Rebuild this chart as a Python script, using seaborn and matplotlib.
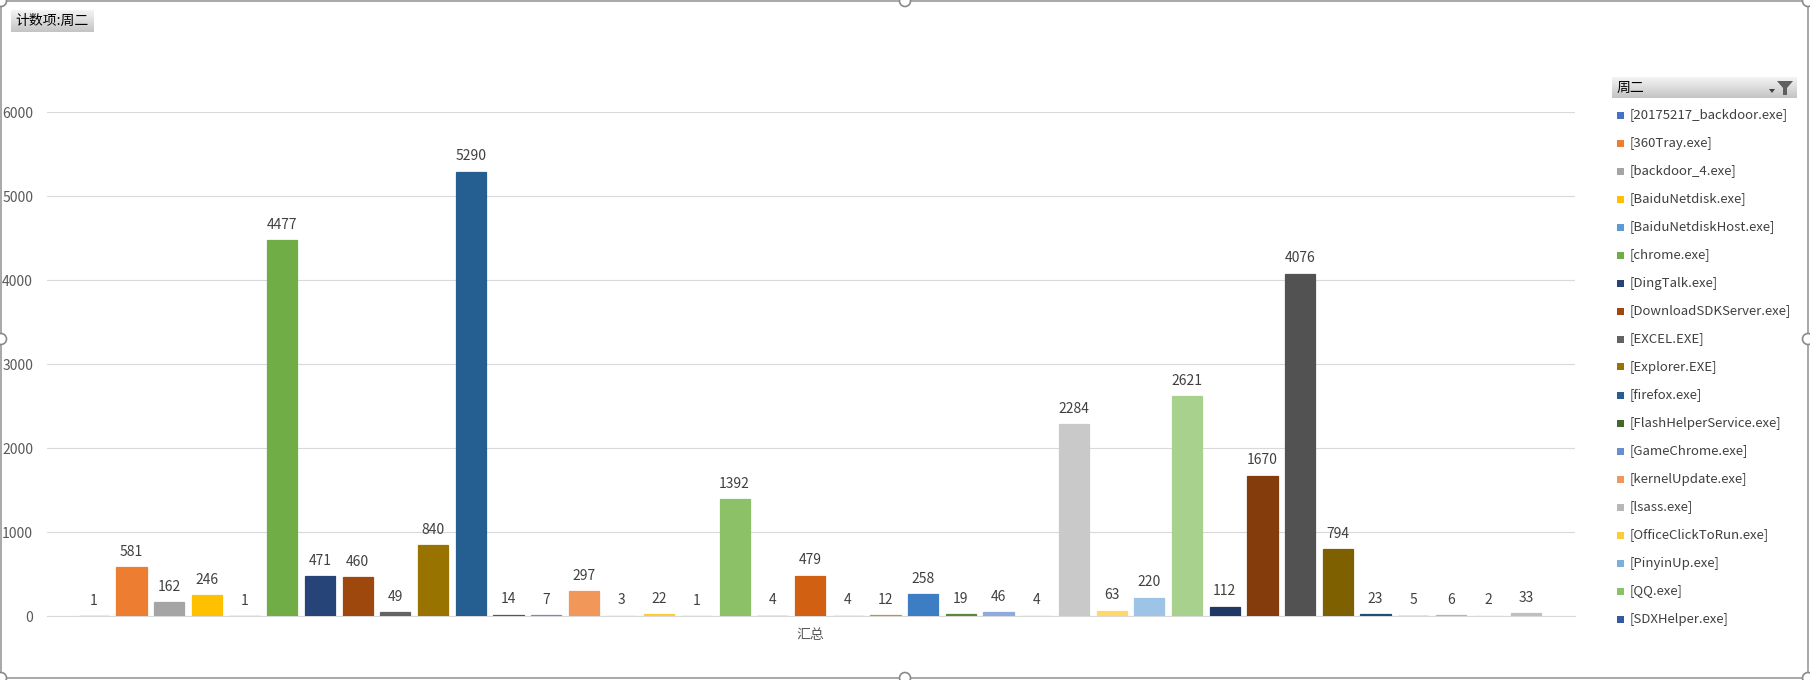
import numpy as np
import pandas as pd
import matplotlib
matplotlib.use("Agg")
import matplotlib.pyplot as plt
from matplotlib.patches import Rectangle, Polygon
import seaborn as sns

# ---------------- data ----------------
values = [1, 581, 162, 246, 1, 4477, 471, 460, 49, 840,
          5290, 14, 7, 297, 3, 22, 1, 1392, 4, 479,
          4, 12, 258, 19, 46, 4, 2284, 63, 220, 2621,
          112, 1670, 4076, 794, 23, 5, 6, 2, 33]

legend_names = ["[20175217_backdoor.exe]", "[360Tray.exe]", "[backdoor_4.exe]",
                "[BaiduNetdisk.exe]", "[BaiduNetdiskHost.exe]", "[chrome.exe]",
                "[DingTalk.exe]", "[DownloadSDKServer.exe]", "[EXCEL.EXE]",
                "[Explorer.EXE]", "[firefox.exe]", "[FlashHelperService.exe]",
                "[GameChrome.exe]", "[kernelUpdate.exe]", "[lsass.exe]",
                "[OfficeClickToRun.exe]", "[PinyinUp.exe]", "[QQ.exe]",
                "[SDXHelper.exe]"]

colors = ["#4472C4", "#ED7D31", "#A5A5A5", "#FFC000", "#5B9BD5", "#70AD47",
          "#264478", "#9E480E", "#636363", "#997300", "#255E91", "#43682B",
          "#698ED0", "#F1975A", "#B7B7B7", "#FFCD33", "#7CAFDD", "#8CC168",
          "#335AA1", "#D26012", "#848484", "#CC9A00", "#3C7DC4", "#5A8A39",
          "#8FAADC", "#F4B183", "#C9C9C9", "#FFD966", "#9DC3E6", "#A9D18E",
          "#203864", "#843C0C", "#525252", "#7F6000", "#1F4E79", "#385723",
          "#A2B4E0", "#F6C6A4", "#BFBFBF"]

y_ticks = [0, 1000, 2000, 3000, 4000, 5000, 6000]
category_label = "汇总"
title_button = "计数项:周二"
legend_title = "周二"

# ---------------- style ----------------
sns.set_theme(style="white")
plt.rcParams["font.family"] = ["Noto Sans CJK SC", "DejaVu Sans"]

W, H = 1810, 680
fig = plt.figure(figsize=(W / 100, H / 100), dpi=100)
fig.patch.set_facecolor("white")

def fx(px):
    return px / W

def fy(py):
    return 1 - py / H

left, right, top, bottom = 47, 1575, 112, 616
ax = fig.add_axes([fx(left), fy(bottom), fx(right - left), (bottom - top) / H])

df = pd.DataFrame({"pos": np.arange(len(values)),
                   "value": values,
                   "sid": [str(i) for i in range(len(values))]})
palette = {str(i): c for i, c in enumerate(colors)}

sns.barplot(data=df, x="pos", y="value", hue="sid", palette=palette,
            native_scale=True, width=0.8, dodge=False, legend=False,
            saturation=1, linewidth=0, ax=ax)

# hairline edge in the bar's own colour so tiny values stay visible (as in Excel)
for patch in ax.patches:
    patch.set_edgecolor(patch.get_facecolor())
    patch.set_linewidth(0.9)
    patch.set_zorder(3)

ax.set_xlim(-1.24, 39.29)
ax.set_ylim(0, 6000)
ax.set_yticks(y_ticks)
ax.set_yticklabels([str(t) for t in y_ticks])
ax.set_xticks([19])
ax.set_xticklabels([category_label])
ax.set_xlabel("")
ax.set_ylabel("")
ax.tick_params(axis="both", length=0, labelsize=10, labelcolor="#595959")
ax.tick_params(axis="y", pad=10)
ax.tick_params(axis="x", pad=9)
ax.grid(axis="y", color="#D9D9D9", linewidth=0.8)
ax.set_axisbelow(True)
for s in ["top", "right", "left"]:
    ax.spines[s].set_visible(False)
ax.spines["bottom"].set_color("#D9D9D9")
ax.spines["bottom"].set_linewidth(0.8)
ax.spines["bottom"].set_zorder(1)

for i, v in enumerate(values):
    ax.annotate(str(v), (i, v), xytext=(0, 6), textcoords="offset points",
                ha="center", va="bottom", fontsize=10, color="#404040",
                annotation_clip=False)

# ---------------- legend (manual, like Excel pivot legend) ----------------
def gradient_box(x0, y0, x1, y1, c_top="#f4f4f4", c_bot="#c4c4c4"):
    bax = fig.add_axes([fx(x0), fy(y1), fx(x1 - x0), (y1 - y0) / H])
    t = np.linspace(0, 1, 50)[:, None]
    a = np.array(matplotlib.colors.to_rgb(c_top))
    b = np.array(matplotlib.colors.to_rgb(c_bot))
    img = (a[None, None, :] * (1 - t[:, :, None]) + b[None, None, :] * t[:, :, None])
    bax.imshow(img, aspect="auto", extent=[0, 1, 0, 1])
    bax.set_axis_off()
    return bax

gradient_box(1612, 77, 1797, 98)
fig.text(fx(1617), fy(88), legend_title, fontsize=10, color="black",
         ha="left", va="center")
# filter icon
funnel = Polygon([[fx(1777), fy(81)], [fx(1793), fy(81)], [fx(1787), fy(88)],
                  [fx(1787), fy(95)], [fx(1783), fy(95)], [fx(1783), fy(88)]],
                 closed=True, transform=fig.transFigure, facecolor="#606060",
                 edgecolor="none")
fig.patches.append(funnel)
arrow = Polygon([[fx(1769), fy(89)], [fx(1775), fy(89)], [fx(1772), fy(93)]],
                closed=True, transform=fig.transFigure, facecolor="#404040",
                edgecolor="none")
fig.patches.append(arrow)

for i, name in enumerate(legend_names):
    yc = 115 + 28 * i
    fig.patches.append(Rectangle((fx(1617), fy(yc + 3.5)), fx(7), 7 / H,
                                 transform=fig.transFigure,
                                 facecolor=colors[i], edgecolor="none"))
    fig.text(fx(1630), fy(yc), name, fontsize=9.5, color="#404040",
             ha="left", va="center")

# ---------------- top-left field button ----------------
gradient_box(11, 10, 93, 32)
fig.text(fx(15), fy(21), title_button, fontsize=10, color="black",
         ha="left", va="center")

# ---------------- chart frame and selection handles ----------------
fig.patches.append(Rectangle((fx(1), fy(678)), fx(1807), 677 / H,
                             transform=fig.transFigure, facecolor="none",
                             edgecolor="#9a9a9a", linewidth=1.2))
for (hx, hy) in [(1, 1), (905, 1), (1808, 1), (1, 339), (1808, 339),
                 (1, 678), (905, 678), (1808, 678)]:
    fig.patches.append(matplotlib.patches.Ellipse((fx(hx), fy(hy)), fx(11), 11 / H,
                       transform=fig.transFigure, facecolor="white",
                       edgecolor="#8a8a8a", linewidth=1.2, zorder=10))

fig.savefig("out.png", dpi=100, facecolor="white")
